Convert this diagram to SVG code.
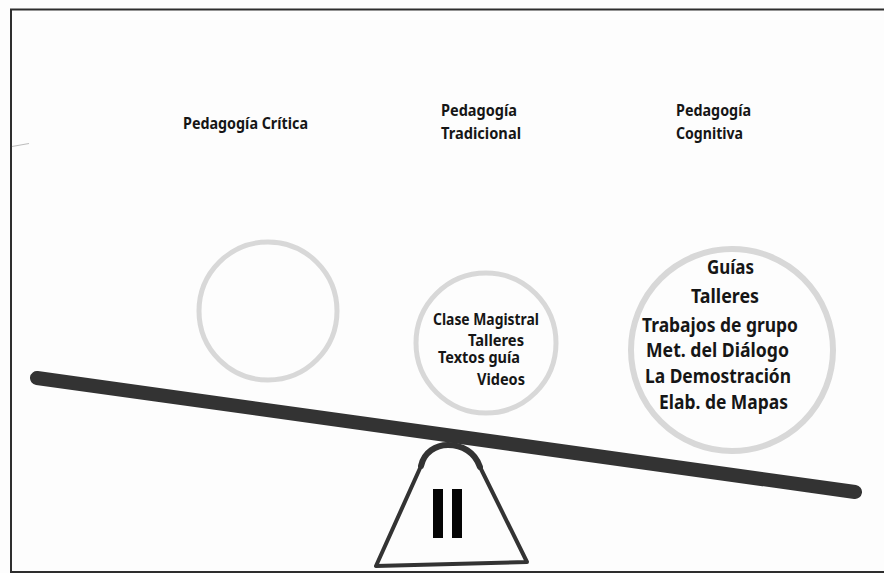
<svg xmlns="http://www.w3.org/2000/svg" width="884" height="573" viewBox="0 0 884 573">
  <style>
    .ttl { font-family: "Noto Sans", "Open Sans", sans-serif; font-weight: 700; font-size: 16.5px; fill: #161616; }
    .mid { font-family: "Noto Sans", "Open Sans", sans-serif; font-weight: 700; font-size: 16.5px; fill: #161616; }
    .big { font-family: "Noto Sans", "Open Sans", sans-serif; font-weight: 700; font-size: 19px; fill: #161616; }
    .ring { fill: none; stroke: #d8d8d8; }
    .dark { stroke: #333333; fill: none; stroke-linecap: round; stroke-linejoin: round; }
  </style>

  <!-- page -->
  <rect x="0" y="0" width="884" height="573" fill="#fdfdfd"/>
  <path d="M 890 9.5 L 11 9.5 L 11 572 L 890 572" fill="none" stroke="#2e2e2e" stroke-width="2"/>
  <line x1="12" y1="146.5" x2="29" y2="143.5" stroke="#bdbdbd" stroke-width="1.2"/>

  <!-- headings -->
  <g id="title-critica">
    <text class="ttl" x="183" y="129" textLength="125" lengthAdjust="spacingAndGlyphs">Pedagogía Crítica</text>
  </g>
  <g id="title-tradicional">
    <text class="ttl" x="441" y="116" textLength="76" lengthAdjust="spacingAndGlyphs">Pedagogía</text>
    <text class="ttl" x="441" y="139" textLength="80" lengthAdjust="spacingAndGlyphs">Tradicional</text>
  </g>
  <g id="title-cognitiva">
    <text class="ttl" x="676" y="116" textLength="75" lengthAdjust="spacingAndGlyphs">Pedagogía</text>
    <text class="ttl" x="676" y="139" textLength="67" lengthAdjust="spacingAndGlyphs">Cognitiva</text>
  </g>

  <!-- weights on the scale -->
  <g id="circle-critica">
    <circle class="ring" cx="268" cy="311" r="69" stroke-width="5"/>
  </g>
  <g id="circle-tradicional">
    <circle class="ring" cx="486" cy="343" r="70" stroke-width="5"/>
    <text class="mid" x="433" y="325" textLength="106" lengthAdjust="spacingAndGlyphs">Clase Magistral</text>
    <text class="mid" x="468" y="346" textLength="56" lengthAdjust="spacingAndGlyphs">Talleres</text>
    <text class="mid" x="438" y="363" textLength="82" lengthAdjust="spacingAndGlyphs">Textos guía</text>
    <text class="mid" x="477" y="385" textLength="48" lengthAdjust="spacingAndGlyphs">Videos</text>
  </g>
  <g id="circle-cognitiva">
    <circle class="ring" cx="732" cy="350" r="101" stroke-width="6"/>
    <text class="big" x="707" y="274" textLength="47" lengthAdjust="spacingAndGlyphs">Guías</text>
    <text class="big" x="691" y="303" textLength="68" lengthAdjust="spacingAndGlyphs">Talleres</text>
    <text class="big" x="642" y="332" textLength="156" lengthAdjust="spacingAndGlyphs">Trabajos de grupo</text>
    <text class="big" x="646" y="357" textLength="143" lengthAdjust="spacingAndGlyphs">Met. del Diálogo</text>
    <text class="big" x="645" y="383" textLength="146" lengthAdjust="spacingAndGlyphs">La Demostración</text>
    <text class="big" x="659" y="409" textLength="129" lengthAdjust="spacingAndGlyphs">Elab. de Mapas</text>
  </g>

  <!-- seesaw beam -->
  <g id="connectors">
    <line class="dark" x1="37" y1="378" x2="855" y2="492" stroke-width="14"/>
  </g>

  <!-- fulcrum -->
  <g id="fulcrum">
    <path class="dark" d="M 421 466 L 376 566 L 527 562 L 480 467" stroke-width="4"/>
    <path class="dark" d="M 421 466 C 424 452 436 445 448 445 C 462 445 475 452 480 467" stroke-width="6"/>
    <rect x="433" y="489" width="10" height="49" fill="#050505"/>
    <rect x="452" y="489" width="10" height="49" fill="#050505"/>
  </g>
</svg>
